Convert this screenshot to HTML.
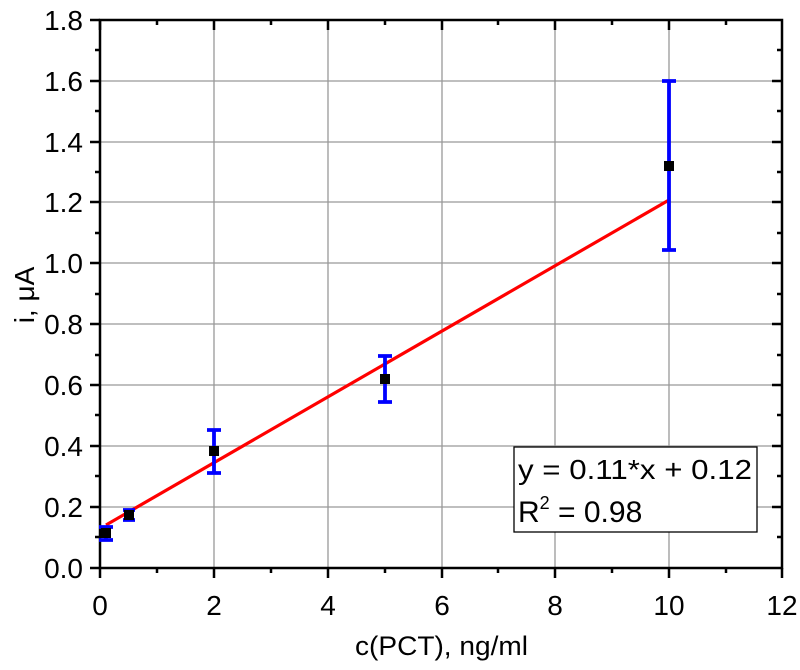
<!DOCTYPE html>
<html><head><meta charset="utf-8"><style>body{margin:0;background:#fff}svg{display:block}text{font-family:"Liberation Sans",Arial,sans-serif;fill:#000}</style></head><body>
<svg width="800" height="670" viewBox="0 0 800 670" xmlns="http://www.w3.org/2000/svg">
<g stroke="#999" stroke-width="1.3">
<line x1="214" y1="20" x2="214" y2="568"/><line x1="328" y1="20" x2="328" y2="568"/><line x1="442" y1="20" x2="442" y2="568"/><line x1="555" y1="20" x2="555" y2="568"/><line x1="669" y1="20" x2="669" y2="568"/>
<line x1="100" y1="507" x2="782" y2="507"/><line x1="100" y1="446" x2="782" y2="446"/><line x1="100" y1="385" x2="782" y2="385"/><line x1="100" y1="324" x2="782" y2="324"/><line x1="100" y1="263" x2="782" y2="263"/><line x1="100" y1="202" x2="782" y2="202"/><line x1="100" y1="142" x2="782" y2="142"/><line x1="100" y1="81" x2="782" y2="81"/>
</g>
<rect x="100" y="20" width="682" height="548" fill="none" stroke="#000" stroke-width="2.5"/>
<g stroke="#000" stroke-width="2.5">
<path d="M100 568v10M214 568v10M328 568v10M442 568v10M555 568v10M669 568v10M782 568v10M157 568v5M271 568v5M385 568v5M498 568v5M612 568v5M726 568v5"/>
<path d="M100 20v10M214 20v10M328 20v10M442 20v10M555 20v10M669 20v10M157 20v5M271 20v5M385 20v5M498 20v5M612 20v5M726 20v5"/>
<path d="M90 568h10M90 507h10M90 446h10M90 385h10M90 324h10M90 263h10M90 202h10M90 142h10M90 81h10M90 20h10M95 537h5M95 476h5M95 415h5M95 355h5M95 294h5M95 233h5M95 172h5M95 111h5M95 50h5"/>
<path d="M782 507h-10M782 446h-10M782 385h-10M782 324h-10M782 263h-10M782 202h-10M782 142h-10M782 81h-10M782 537h-5M782 476h-5M782 415h-5M782 355h-5M782 294h-5M782 233h-5M782 172h-5M782 111h-5M782 50h-5"/>
</g>
<g font-size="28" text-anchor="end">
<text x="83" y="578">0.0</text><text x="83" y="517">0.2</text><text x="83" y="456">0.4</text><text x="83" y="395">0.6</text><text x="83" y="334">0.8</text><text x="83" y="273">1.0</text><text x="83" y="212">1.2</text><text x="83" y="152">1.4</text><text x="83" y="91">1.6</text><text x="83" y="30">1.8</text>
</g>
<g font-size="28" text-anchor="middle">
<text x="100" y="615">0</text><text x="214" y="615">2</text><text x="328" y="615">4</text><text x="442" y="615">6</text><text x="555" y="615">8</text><text x="669" y="615">10</text><text x="782" y="615">12</text>
</g>
<text x="355" y="655" font-size="27" textLength="173" lengthAdjust="spacingAndGlyphs">c(PCT), ng/ml</text>
<text transform="translate(34,295) rotate(-90)" font-size="28" text-anchor="middle">i, μA</text>
<line x1="106" y1="525" x2="669" y2="200" stroke="#f00" stroke-width="3.2"/>
<g stroke="#00f" stroke-width="3.8" fill="none">
<path d="M106 527v13M99 527h14M99 540h14"/>
<path d="M129 510v10M123 510h12M123 520h12"/>
<path d="M214 430v43M207 430h14M207 473h14"/>
<path d="M385 356v46M378 356h14M378 402h14"/>
<path d="M669 81v169M662 81h14M662 250h14"/>
</g>
<g fill="#000">
<rect x="101" y="528" width="10" height="10"/><rect x="124" y="510" width="10" height="10"/><rect x="209" y="446" width="10" height="10"/><rect x="380" y="374" width="10" height="10"/><rect x="664" y="161" width="10" height="10"/>
</g>
<rect x="514" y="447" width="243" height="85" fill="#fff" stroke="#000" stroke-width="1.3"/>
<text x="518" y="479" font-size="28" textLength="234" lengthAdjust="spacingAndGlyphs">y = 0.11*x + 0.12</text>
<text x="518" y="522" font-size="30">R<tspan font-size="18" dy="-13">2</tspan><tspan dy="13"> = 0.98</tspan></text>
</svg>
</body></html>
